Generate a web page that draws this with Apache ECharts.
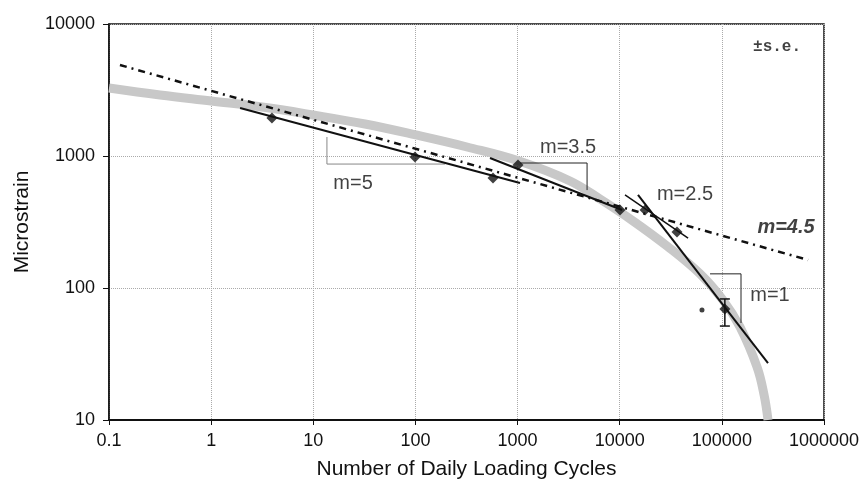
<!DOCTYPE html>
<html>
<head>
<meta charset="utf-8">
<title>Microstrain vs Daily Loading Cycles</title>
<script src="https://cdn.jsdelivr.net/npm/echarts@6.0.0/dist/echarts.min.js"></script>
<style>
    html, body {margin: 0; padding: 0; background: #fff;}
    #chart {width: 863px; height: 489px;}
</style>
</head>
<body>
<div id="chart"></div>
<script>
// tick labels
const xTickLabels = ['0.1', '1', '10', '100', '1000', '10000', '100000', '1000000'];
const yTickLabels = ['10', '100', '1000', '10000'];

// grey fitted band
const bandX = [0.1, 0.316, 1, 3.15, 9.93, 32.1, 101, 320, 1033, 3260, 6410, 13500, 29000, 61100, 102600, 150600, 221000, 259000, 283000];
const bandY = [3273, 2897, 2610, 2350, 2046, 1747, 1443, 1170, 916, 647, 472, 322, 208, 128, 81, 50.6, 25.2, 15.5, 10];

// measured points (diamonds)
const pointX = [3.94, 99, 575, 1010, 10070, 17700, 36400, 107000];
const pointY = [1941, 982, 681, 855, 390, 390, 266, 69.3];

// +/- s.e. on the last point
const errX = [107000];
const errLow = [51.5];
const errHigh = [82.6];

// small star point
const starX = [63900];
const starY = [68.1];

// fitted slopes
const m45X = [0.128, 698000];
const m45Y = [4890, 163];
const m5X = [1.92, 1057];
const m5Y = [2311, 624];
const m35X = [537, 10540];
const m35Y = [966, 390];
const m25X = [11270, 46700];
const m25Y = [507, 239];
const m1X = [15100, 283000];
const m1Y = [507, 27.0];

// slope triangles
const tri5X = [13.6, 13.6, 195];
const tri5Y = [1393, 869, 869];
const tri35X = [1057, 4790, 4790];
const tri35Y = [885, 885, 552];
const tri1X = [76600, 154000, 154000];
const tri1Y = [128, 128, 54.3];

// annotation texts
const noteText = ['m=5', 'm=3.5', 'm=2.5', 'm=4.5', 'm=1', '±s.e.'];
const noteX = [24.5, 3120, 43600, 425000, 296000, 347000];
const noteY = [614, 1170, 507, 285, 87, 6700];

const zip = (xs, ys) => xs.map((x, i) => [x, ys[i]]);
const logLabel = (labels, min) => v => labels[Math.round(Math.log10(v) - Math.log10(min))] || '';

let myChart = echarts.init(document.getElementById('chart'));

const fontFamily = '"Liberation Sans", Arial, Helvetica, sans-serif';

const solid = (name, xs, ys, width, color) => ({
    name: name,
    type: 'line',
    data: zip(xs, ys),
    symbol: 'none',
    silent: true,
    lineStyle: {color: color || '#111', width: width || 2},
    z: 4
});

let option = {
    animation: false,
    backgroundColor: '#fff',
    grid: {
        left: 109, right: 39, top: 24, bottom: 69,
        show: true,
        borderColor: '#111',
        borderWidth: 1.5
    },
    xAxis: {
        type: 'log',
        logBase: 10,
        min: 0.1,
        max: 1000000,
        name: 'Number of Daily Loading Cycles',
        nameLocation: 'middle',
        nameGap: 39,
        nameTextStyle: {fontSize: 21, color: '#111', fontFamily: fontFamily},
        axisLine: {lineStyle: {color: '#111', width: 2}},
        axisTick: {show: true, length: 5, lineStyle: {color: '#111'}},
        axisLabel: {
            fontSize: 18, color: '#111', fontFamily: fontFamily, margin: 12,
            formatter: logLabel(xTickLabels, 0.1)
        },
        splitLine: {show: true, lineStyle: {type: 'dotted', color: '#aaa', width: 1}}
    },
    yAxis: {
        type: 'log',
        logBase: 10,
        min: 10,
        max: 10000,
        name: 'Microstrain',
        nameLocation: 'middle',
        nameGap: 76,
        nameTextStyle: {fontSize: 21, color: '#111', fontFamily: fontFamily},
        axisLine: {show: true, lineStyle: {color: '#111', width: 1.5}},
        axisTick: {show: true, length: 6, lineStyle: {color: '#111'}},
        axisLabel: {
            fontSize: 18, color: '#111', fontFamily: fontFamily, margin: 14,
            formatter: logLabel(yTickLabels, 10)
        },
        splitLine: {show: true, lineStyle: {type: 'dotted', color: '#aaa', width: 1}}
    },
    series: [
        {
            name: 'band',
            type: 'line',
            data: zip(bandX, bandY),
            smooth: 0.4,
            symbol: 'none',
            silent: true,
            lineStyle: {color: '#c8c8c8', width: 9},
            z: 1
        },
        solid('tri5', tri5X, tri5Y, 1, '#888'),
        solid('tri35', tri35X, tri35Y, 1, '#222'),
        solid('tri1', tri1X, tri1Y, 1, '#222'),
        {
            name: 'm=4.5',
            type: 'line',
            data: zip(m45X, m45Y),
            symbol: 'none',
            silent: true,
            lineStyle: {color: '#111', width: 2.5, type: [7, 5, 2, 5]},
            z: 3
        },
        solid('m=5', m5X, m5Y, 2),
        solid('m=3.5', m35X, m35Y, 2),
        solid('m=2.5', m25X, m25Y, 1.5),
        solid('m=1', m1X, m1Y, 2),
        {
            name: 'error',
            type: 'custom',
            silent: true,
            data: errX.map((x, i) => [x, errLow[i], errHigh[i]]),
            renderItem: function (params, api) {
                const lo = api.coord([api.value(0), api.value(1)]);
                const hi = api.coord([api.value(0), api.value(2)]);
                const w = 5;
                const style = {stroke: '#111', lineWidth: 1.5};
                return {
                    type: 'group',
                    children: [
                        {type: 'line', shape: {x1: lo[0], y1: lo[1], x2: hi[0], y2: hi[1]}, style: style},
                        {type: 'line', shape: {x1: lo[0] - w, y1: lo[1], x2: lo[0] + w, y2: lo[1]}, style: style},
                        {type: 'line', shape: {x1: hi[0] - w, y1: hi[1], x2: hi[0] + w, y2: hi[1]}, style: style}
                    ]
                };
            },
            z: 5
        },
        {
            name: 'points',
            type: 'scatter',
            data: zip(pointX, pointY),
            symbol: 'diamond',
            symbolSize: 11,
            silent: true,
            itemStyle: {color: '#111'},
            z: 6
        },
        {
            name: 'star',
            type: 'scatter',
            data: zip(starX, starY),
            symbol: 'circle',
            symbolSize: 5,
            silent: true,
            itemStyle: {color: '#111'},
            z: 6
        },
        {
            name: 'notes',
            type: 'scatter',
            symbolSize: 0,
            silent: true,
            data: noteText.map((t, i) => {
                let item = {name: t, value: [noteX[i], noteY[i]]};
                if (t === 'm=4.5') {
                    item.label = {fontWeight: 'bold', fontStyle: 'italic'};
                }
                if (t === '±s.e.') {
                    item.label = {fontFamily: '"Liberation Mono", "DejaVu Sans Mono", monospace', fontWeight: 'bold', fontSize: 16};
                }
                return item;
            }),
            label: {
                show: true,
                position: 'inside',
                formatter: '{b}',
                fontSize: 20,
                color: '#111',
                fontFamily: fontFamily
            },
            z: 7
        }
    ]
};

// use configuration item and data specified to show chart
myChart.setOption(option);
</script>
</body>
</html>
